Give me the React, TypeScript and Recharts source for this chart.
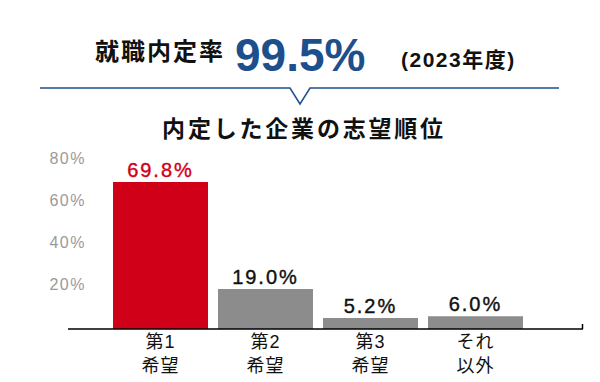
import React from 'react';
import { BarChart, Bar, XAxis, YAxis, Cell, LabelList } from 'recharts';

const categories = ['第1希望', '第2希望', '第3希望', 'それ以外'];
const categoryTop = ['第1', '第2', '第3', 'それ'];
const categoryBottom = ['希望', '希望', '希望', '以外'];
const values = [69.8, 19.0, 5.2, 6.0];
const yTicks = [20, 40, 60, 80];

const headerLabel = '就職内定率';
const headerRate = '99.5%';
const headerYear = '(2023年度)';
const subtitle = '内定した企業の志望順位';

const FONT = "'Liberation Sans', Arial, 'Noto Sans CJK JP', sans-serif";
const BLUE = '#1d4f8c';
const RED = '#cf0018';
const GRAY = '#8c8c8c';

const data = categories.map((name, i) => ({
  name,
  top: categoryTop[i],
  bottom: categoryBottom[i],
  value: values[i],
}));

const YTick = (props: any) => {
  const { y, payload } = props;
  return (
    <text
      x={86}
      y={y + 3.5}
      textAnchor="end"
      fill="#9a9a9a"
      fontSize={16}
      letterSpacing={1.5}
      fontFamily={FONT}
    >
      {payload.value}%
    </text>
  );
};

const XTick = (props: any) => {
  const { x, y, index } = props;
  return (
    <g fontFamily={FONT} fontSize={18} fill="#111" textAnchor="middle">
      <text x={x} y={y + 11} letterSpacing={1}>
        {categoryTop[index]}
      </text>
      <text x={x} y={y + 35} letterSpacing={1}>
        {categoryBottom[index]}
      </text>
    </g>
  );
};

const ValueLabel = (props: any) => {
  const { x, y, width, value, index } = props;
  return (
    <text
      x={x + width / 2}
      y={y - 5}
      textAnchor="middle"
      fill={index === 0 ? RED : '#111'}
      fontSize={20}
      fontWeight={500}
      letterSpacing={2}
      fontFamily={FONT}
      stroke={index === 0 ? RED : '#111'}
      strokeWidth={0.4}
    >
      {Number(value).toFixed(1)}%
    </text>
  );
};

export default function App() {
  return (
    <div style={{ position: 'relative', width: 600, height: 382, margin: -8, background: '#fff' }}>
      <BarChart
        width={600}
        height={382}
        data={data}
        margin={{ top: 160.5, right: 17, bottom: 8, left: 0 }}
      >
        <YAxis
          domain={[0, 80]}
          ticks={yTicks}
          axisLine={false}
          tickLine={false}
          width={68}
          tick={<YTick />}
        />
        <XAxis
          dataKey="name"
          axisLine={{ stroke: '#000', strokeWidth: 1.5 }}
          tickLine={false}
          padding={{ left: 40, right: 55 }}
          height={45}
          interval={0}
          tick={<XTick />}
        />
        <Bar dataKey="value" barSize={95} isAnimationActive={false}>
          {data.map((d, i) => (
            <Cell key={d.name} fill={i === 0 ? RED : GRAY} />
          ))}
          <LabelList dataKey="value" content={<ValueLabel />} />
        </Bar>
      </BarChart>
      <svg
        width={600}
        height={382}
        style={{ position: 'absolute', left: 0, top: 0, pointerEvents: 'none' }}
      >
        <text x={95} y={60} fontSize={24} fontWeight="bold" letterSpacing={2} fill="#111" fontFamily={FONT}>
          {headerLabel}
        </text>
        <text x={235} y={70.5} fontSize={46} fontWeight="bold" fill={BLUE} fontFamily={FONT}>
          {headerRate}
        </text>
        <text x={401} y={67} fontSize={21} fontWeight="bold" letterSpacing={1.5} fill="#111" fontFamily={FONT}>
          {headerYear}
        </text>
        <polyline
          points="40,88 290,88 300,104 310,88 559,88"
          fill="none"
          stroke={BLUE}
          strokeWidth={1.5}
        />
        <text x={304} y={137} textAnchor="middle" fontSize={23} fontWeight="bold" letterSpacing={2.8} fill="#111" fontFamily={FONT}>
          {subtitle}
        </text>
        <line x1={582.5} y1={324} x2={582.5} y2={329} stroke="#000" strokeWidth={1.5} />
      </svg>
    </div>
  );
}
